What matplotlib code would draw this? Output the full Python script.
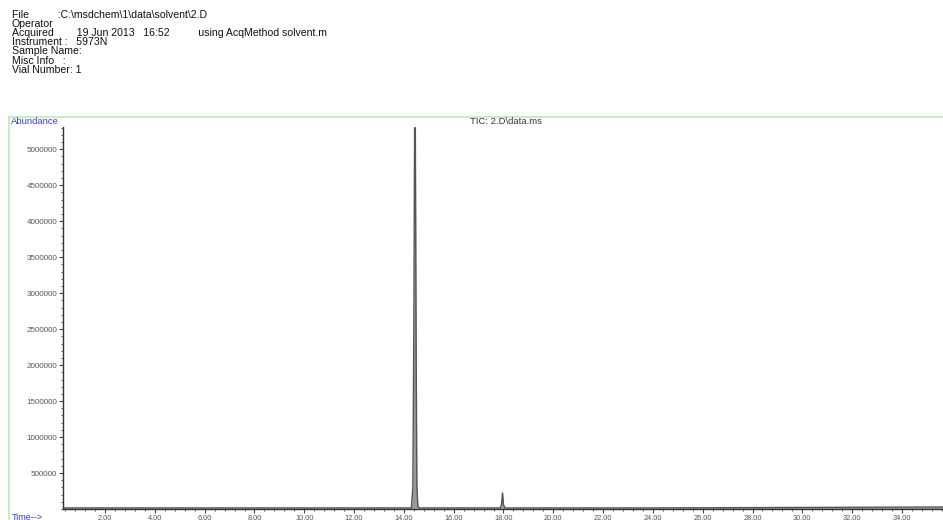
import matplotlib
matplotlib.use("Agg")
import matplotlib.pyplot as plt
from matplotlib.ticker import MultipleLocator, FixedLocator, FuncFormatter
from matplotlib.lines import Line2D

plt.rcParams['font.family'] = ['Liberation Sans', 'DejaVu Sans']

# ---- data ----
header_lines = [
    "File          :C:\\msdchem\\1\\data\\solvent\\2.D",
    "Operator",
    "Acquired        19 Jun 2013   16:52          using AcqMethod solvent.m",
    "Instrument :   5973N",
    "Sample Name:",
    "Misc Info   :",
    "Vial Number: 1",
]
trace_title = "TIC: 2.D\\data.ms"
time_min = [0.30, 14.30, 14.36, 14.40, 14.43, 14.46, 14.49, 14.52, 14.56, 14.62,
            17.86, 17.92, 17.96, 18.00, 18.06, 24.0, 35.70]
abundance = [15000, 15000, 300000, 2600000, 5300000, 5300000, 2400000, 350000, 40000, 15000,
             15000, 60000, 230000, 60000, 15000, 15000, 28000]
y_ticks = [500000, 1000000, 1500000, 2000000, 2500000, 3000000, 3500000, 4000000, 4500000, 5000000]
x_ticks = [2, 4, 6, 8, 10, 12, 14, 16, 18, 20, 22, 24, 26, 28, 30, 32, 34]

W, H = 943, 520
fig = plt.figure(figsize=(W / 100, H / 100), dpi=100)

# header text
for i, line in enumerate(header_lines):
    fig.text(12 / W, 1 - (15 + 9.1 * i) / H, line, fontsize=7.6, color="#111111",
             va="center", ha="left")

# green frame
fig.add_artist(Line2D([9 / W, 1.0], [1 - 117 / H, 1 - 117 / H], transform=fig.transFigure,
                      color="#b8ecb8", lw=1.2))
fig.add_artist(Line2D([9 / W, 9 / W], [1 - 117 / H, 0.0], transform=fig.transFigure,
                      color="#b8ecb8", lw=1.2))

fig.text(11 / W, 1 - 122 / H, "Abundance", fontsize=6.8, color="#3a3ad8", va="center", ha="left")
fig.text(12 / W, 1 - 517 / H, "Time-->", fontsize=6.5, color="#3a3ad8", va="center", ha="left")
fig.text(470 / W, 1 - 121 / H, trace_title, fontsize=6.8, color="#333333", va="center", ha="left")

left, right, top, bottom = 63, 943, 127, 509
ax = fig.add_axes([left / W, 1 - bottom / H, (right - left) / W, (bottom - top) / H])
ax.fill_between(time_min, abundance, color="#9a9a9a", lw=0)
ax.plot(time_min, abundance, color="#555555", lw=1.0, solid_joinstyle="miter")
ax.set_xlim(0.31, 35.65)
ax.set_ylim(0, 5310000)

for s in ["top", "right"]:
    ax.spines[s].set_visible(False)
for s in ["left", "bottom"]:
    ax.spines[s].set_color("#333333")
    ax.spines[s].set_linewidth(1.0)

ax.yaxis.set_major_locator(FixedLocator(y_ticks))
ax.yaxis.set_minor_locator(MultipleLocator(100000))
ax.yaxis.set_major_formatter(FuncFormatter(lambda v, p: f"{int(v)}"))
ax.xaxis.set_major_locator(FixedLocator(x_ticks))
ax.xaxis.set_minor_locator(MultipleLocator(0.4))
ax.xaxis.set_major_formatter(FuncFormatter(lambda v, p: f"{v:.2f}"))

ax.tick_params(axis="y", which="major", length=3, width=0.8, color="#444444",
               labelsize=5.8, labelcolor="#555555", pad=1)
ax.tick_params(axis="y", which="minor", length=1.5, width=0.6, color="#444444")
ax.tick_params(axis="x", which="major", length=3, width=0.8, color="#444444",
               labelsize=5.3, labelcolor="#555555", pad=1)
ax.tick_params(axis="x", which="minor", length=1.5, width=0.6, color="#444444")

fig.savefig("out.png", dpi=100)
